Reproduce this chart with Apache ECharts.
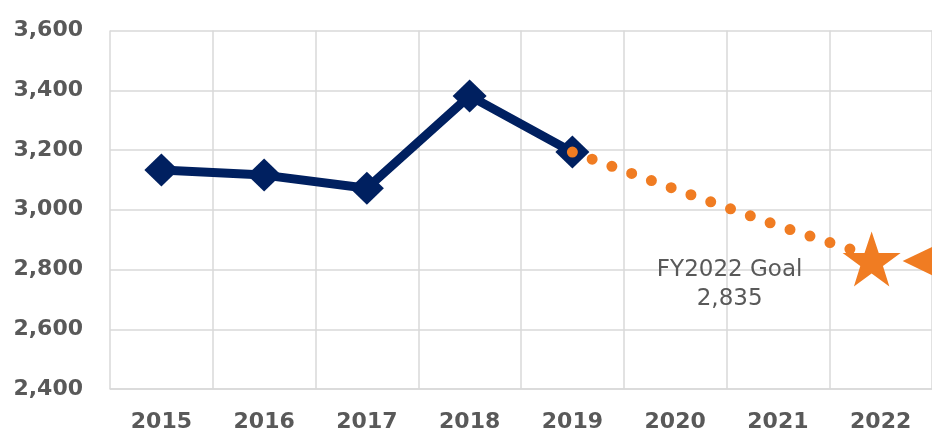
<!DOCTYPE html>
<html>
<head>
<meta charset="utf-8">
<script src="https://cdn.jsdelivr.net/npm/echarts@6/dist/echarts.min.js"></script>
<style>
  html, body { margin: 0; padding: 0; background: #ffffff; }
  #chart { width: 932px; height: 444px; }
</style>
</head>
<body>
<div id="chart"></div>
<script>
const years = ["2015", "2016", "2017", "2018", "2019", "2020", "2021", "2022"];
const actual = [3133, 3116, 3072, 3381, 3193, null, null, null];
const goalPath = [null, null, null, null, 3193, 3069, 2947, 2835];
const goalValue = 2835;
const goalLabel = "FY2022 Goal";

const NAVY = "#002060";
const ORANGE = "#f07c22";
const TEXT = "#595959";
const GRID = "#d9d9d9";
const FONT = "DejaVu Sans";

const STAR = "path://M50,0 L61.8,35.1 L98.1,35.1 L68.8,56.7 L79.4,90.5 L50,69.1 L20.6,90.5 L31.2,56.7 L1.9,35.1 L38.2,35.1 Z";
const LEFT_TRI = "path://M0,50 L100,0 L100,100 Z";

const last = years.length - 1;
const starData = years.map((_, i) => (i === last ? goalValue : null));

const chart = echarts.init(document.getElementById("chart"));

chart.setOption({
  animation: false,
  grid: { left: 110, right: 0, top: 30.5, bottom: 55 },
  xAxis: {
    type: "category",
    data: years,
    boundaryGap: true,
    axisLine: { lineStyle: { color: GRID, width: 1.5 } },
    axisTick: { show: false },
    splitLine: { show: true, interval: 0, lineStyle: { color: GRID, width: 1.5 } },
    axisLabel: {
      color: TEXT, fontFamily: FONT, fontWeight: "bold", fontSize: 22, margin: 22
    }
  },
  yAxis: {
    type: "value",
    min: 2400,
    max: 3600,
    interval: 200,
    axisLine: { show: false },
    axisTick: { show: false },
    splitLine: { lineStyle: { color: GRID, width: 1.5 } },
    axisLabel: {
      color: TEXT, fontFamily: FONT, fontWeight: "bold", fontSize: 22, margin: 27,
      formatter: (v) => v.toLocaleString("en-US")
    }
  },
  series: [
    {
      name: "Actual",
      type: "line",
      data: actual,
      symbol: "diamond",
      symbolSize: [34, 33],
      itemStyle: { color: NAVY },
      lineStyle: { color: NAVY, width: 9 },
      z: 3
    },
    {
      name: "Goal path",
      type: "line",
      data: goalPath,
      symbol: "none",
      lineStyle: { color: ORANGE, width: 11, type: [0, 21], cap: "round" },
      z: 4
    },
    {
      name: "Goal",
      type: "scatter",
      data: starData,
      symbol: STAR,
      symbolSize: [58, 55],
      symbolOffset: [-9, 0],
      itemStyle: { color: ORANGE, opacity: 1 },
      label: {
        show: true,
        position: "inside",
        offset: [-142, 25],
        align: "center",
        verticalAlign: "middle",
        color: TEXT,
        opacity: 1,
        fontFamily: FONT,
        fontSize: 23,
        lineHeight: 29,
        formatter: (p) => goalLabel + "\n" + p.value.toLocaleString("en-US")
      },
      z: 5
    },
    {
      name: "Marker",
      type: "scatter",
      data: starData,
      symbol: LEFT_TRI,
      symbolSize: [50, 48],
      symbolOffset: [47, 2],
      itemStyle: { color: ORANGE, opacity: 1 },
      z: 5
    }
  ]
});
</script>
</body>
</html>
